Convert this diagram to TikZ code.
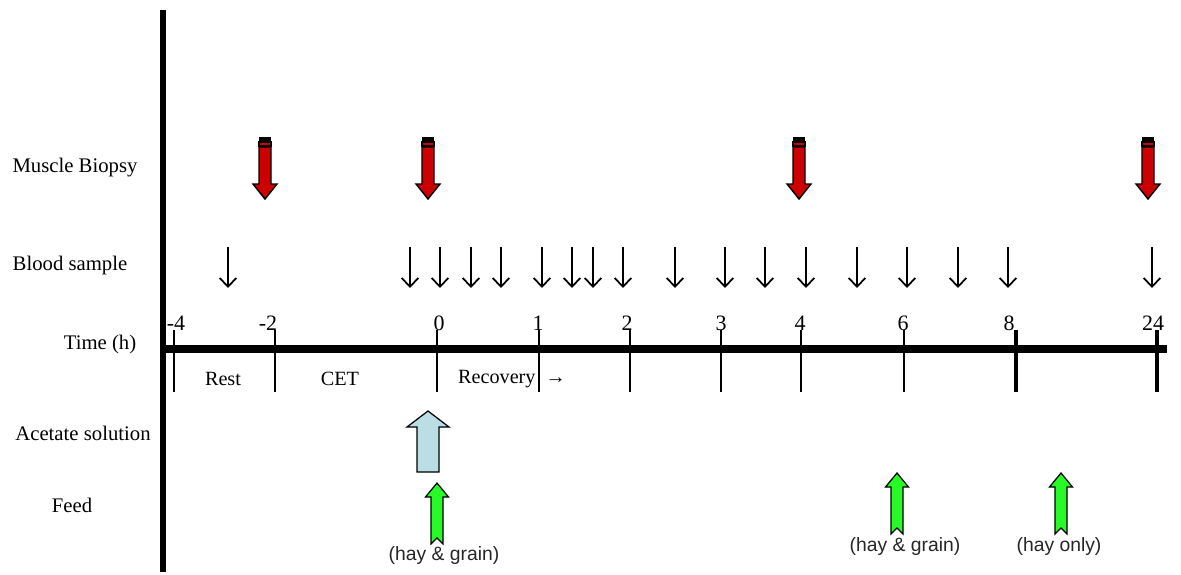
\documentclass[tikz,border=0pt]{standalone}
\usepackage{fontspec}
\setmainfont{Liberation Serif}
\newfontfamily\helvfont{Liberation Sans}
\usetikzlibrary{arrows.meta}
\definecolor{BiopsyRed}{RGB}{204,0,0}
\definecolor{FeedGreen}{RGB}{40,250,40}
\definecolor{AcetBlue}{RGB}{186,222,228}

\begin{document}
\begin{tikzpicture}[x=0.02cm, y=-0.02cm,
      rowlbl/.style={font=\fontsize{11.8}{14}\selectfont},
      ticklbl/.style={font=\fontsize{12.5}{14}\selectfont, anchor=base},
      phase/.style={font=\fontsize{11.5}{14}\selectfont},
      feedlbl/.style={font=\helvfont\fontsize{11}{13}\selectfont, text=black!85},
      blood/.style={-{Straight Barb[length=5pt,width=9.5pt]}, line width=1pt},
      biopsy/.style={draw=black, line width=0.8pt, fill=BiopsyRed},
      acet/.style={draw=black, line width=0.7pt, fill=AcetBlue},
      feed/.style={draw=black, line width=0.7pt, fill=FeedGreen}
    ]
    \useasboundingbox (0,0) rectangle (1181,575);

    % row labels
    \node[rowlbl] (musc)  at (75,168)  {Muscle Biopsy};
    \node[rowlbl] (blood) at (70,266)  {Blood sample};
    \node[rowlbl] (time)  at (100,345) {Time (h)};
    \node[rowlbl] (acet)  at (83,433)  {Acetate solution};
    \node[rowlbl] (feed)  at (72,505)  {Feed};

    % axes
    \draw[line width=3.1pt] (163,10) -- (163,572);
    \draw[line width=4.5pt] (161,349) -- (1167,349);

    \foreach \x/\lx/\t/\w in {174/176/-4/0.8pt, 275/268/-2/0.8pt, 437/439/0/0.8pt,
        539/538/1/0.8pt, 630/627/2/0.8pt, 721/721/3/0.8pt, 801/800/4/1.1pt,
        904/903/6/1.6pt, 1016/1009/8/2.2pt, 1157/1153/24/2.2pt}{
      \draw[line width=\w] (\x,330) -- (\x,392);
      \node[ticklbl] (tick\t) at (\lx,330) {\t};
    }

    \node[phase] (rest) at (223,379) {Rest};
    \node[phase] (cet)  at (340,379) {CET};
    \node[phase] (rec)  at (512,379) {Recovery \ →};

    % blood samples
    \foreach \x in {228,410,440,471,501,542,572,593,623,675,725,765,806,857,907,958,1008,1152}
      \draw[blood] (\x,247) -- (\x,288);

    % muscle biopsies
    \foreach \x in {265,428,799,1148}{
      \fill (\x-6,137) rectangle (\x+6,141);
      \draw[biopsy] (\x-6,142) rectangle (\x+6,146);
      \draw[biopsy] (\x-6,147) -- (\x+6,147) -- (\x+6,184) -- (\x+12,184)
        -- (\x,199) -- (\x-12,184) -- (\x-6,184) -- cycle;
    }

    % acetate solution
    \draw[acet] (417,472) -- (417,427) -- (407,427) -- (428,411) -- (449,427)
      -- (439,427) -- (439,472) -- cycle;

    % feed
    \foreach \x/\t in {437/483, 897/473, 1061/473}
      \draw[feed] (\x,\t) -- (\x+11.5,\t+14) -- (\x+6,\t+14) -- (\x+6,\t+61)
        -- (\x,\t+55) -- (\x-6,\t+61) -- (\x-6,\t+14) -- (\x-11.5,\t+14) -- cycle;

    \node[feedlbl] (hg1) at (444,555) {(hay \& grain)};
    \node[feedlbl] (hg2) at (905,546) {(hay \& grain)};
    \node[feedlbl] (hay) at (1059,546) {(hay only)};
  \end{tikzpicture}
\end{document}
